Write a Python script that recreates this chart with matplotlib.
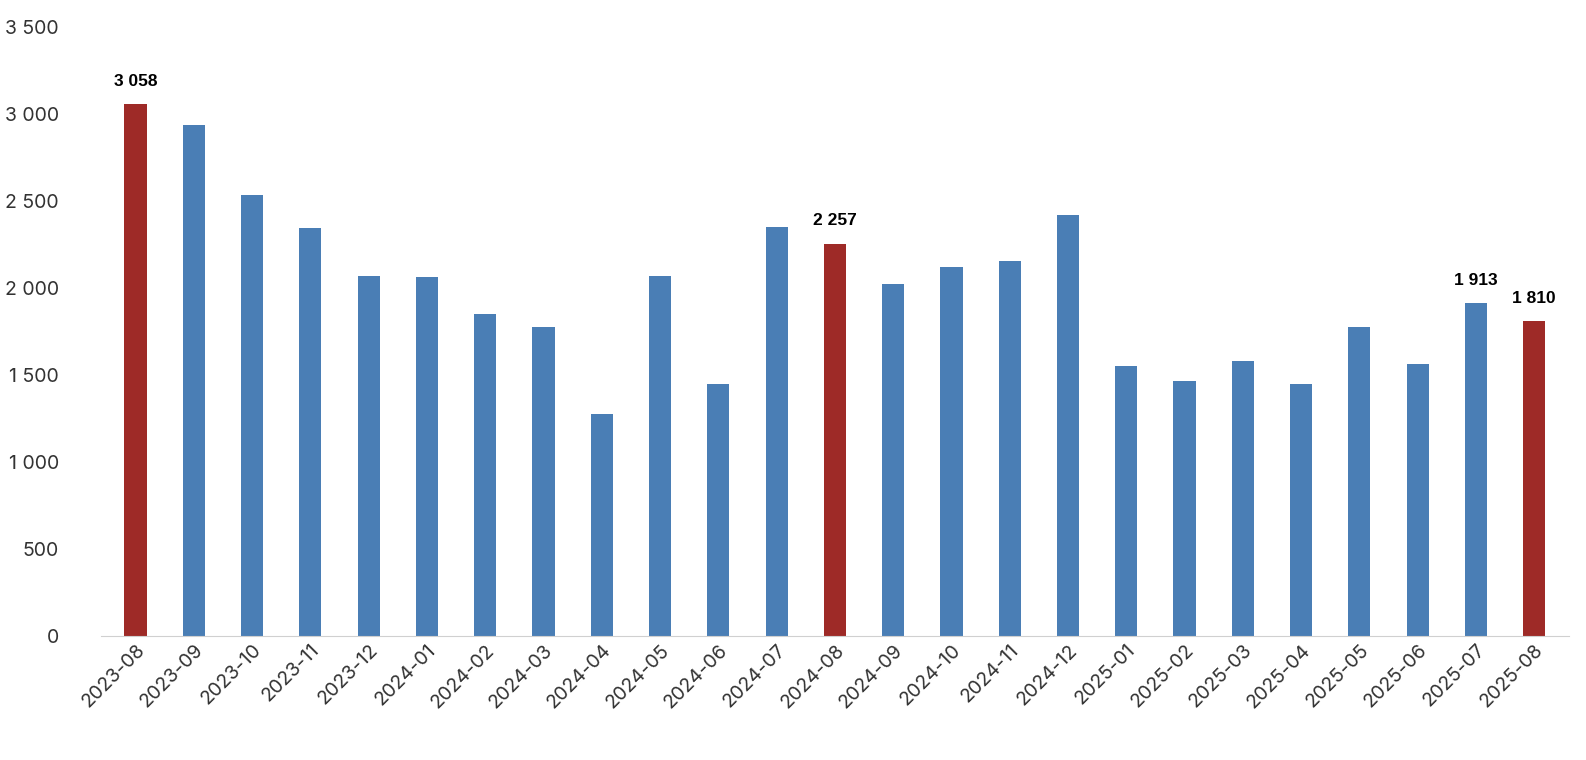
import matplotlib
matplotlib.use("Agg")
import matplotlib.pyplot as plt
from matplotlib.ticker import FuncFormatter

months = ["2023-08","2023-09","2023-10","2023-11","2023-12","2024-01","2024-02","2024-03","2024-04",
          "2024-05","2024-06","2024-07","2024-08","2024-09","2024-10","2024-11","2024-12","2025-01",
          "2025-02","2025-03","2025-04","2025-05","2025-06","2025-07","2025-08"]
values = [3058,2936,2539,2347,2072,2066,1850,1780,1278,2072,1448,2352,2257,2026,2125,2155,2420,1553,
          1465,1582,1448,1775,1565,1913,1810]
highlight = ["2023-08","2024-08","2025-08"]
labeled = ["2023-08","2024-08","2025-07","2025-08"]

def fmt(v, p=None):
    return f"{int(v):,}".replace(",", " ")

plt.rcParams['font.family'] = ['Inter', 'DejaVu Sans']
fig = plt.figure(figsize=(15.86, 7.6), dpi=100)
ax = fig.add_axes([0.0634, 0.163, 0.926, 0.801])
colors = ["#9E2A27" if m in highlight else "#4A7EB5" for m in months]
x = range(len(months))
ax.bar(x, values, width=0.38, color=colors)
for i, (m, v) in enumerate(zip(months, values)):
    if m in labeled:
        ax.text(i, v + 90, fmt(v), ha='center', va='bottom', fontsize=12.5, fontweight='bold',
                color='black', family=['Liberation Sans', 'DejaVu Sans'])
ax.set_ylim(0, 3500)
ax.set_xlim(-0.6, len(months) - 0.4)
ax.set_yticks(range(0, 3501, 500))
ax.yaxis.set_major_formatter(FuncFormatter(fmt))
ax.set_xticks(list(x))
ax.set_xticklabels(months, rotation=45, ha='right', rotation_mode='anchor')
ax.tick_params(axis='both', labelsize=14, colors='#333333', length=0)
ax.tick_params(axis='y', pad=30)
for s in ['top', 'right', 'left']:
    ax.spines[s].set_visible(False)
ax.spines['bottom'].set_color('#D0D0D0')
fig.savefig("out.png", dpi=100)
